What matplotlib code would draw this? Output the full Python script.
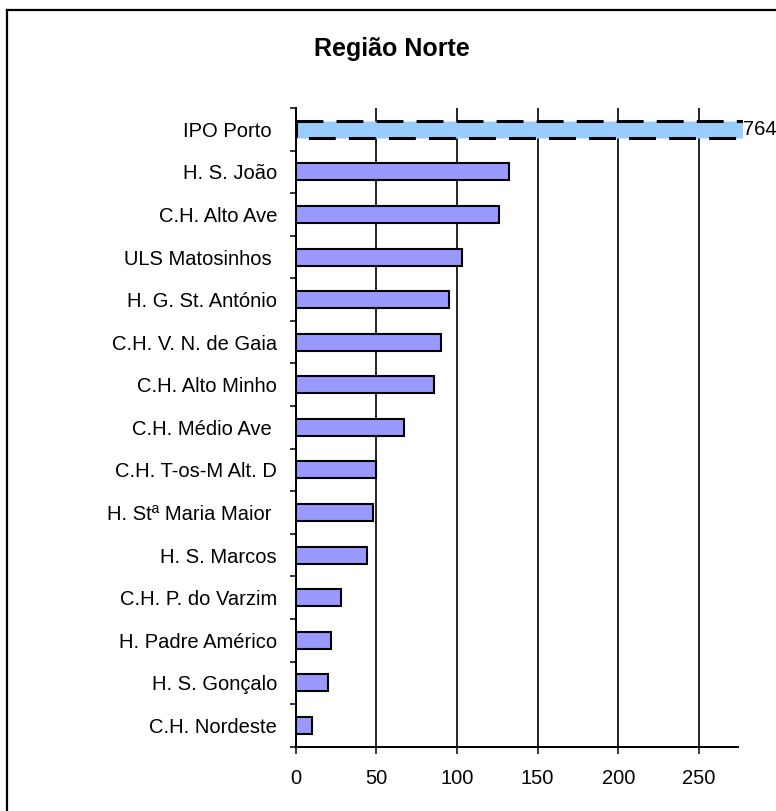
import matplotlib.pyplot as plt
from matplotlib.lines import Line2D
from matplotlib.patches import Rectangle

# Chart data
hospitals = ['IPO Porto ', 'H. S. João', 'C.H. Alto Ave', 'ULS Matosinhos ',
             'H. G. St. António', 'C.H. V. N. de Gaia', 'C.H. Alto Minho',
             'C.H. Médio Ave ', 'C.H. T-os-M Alt. D', 'H. Stª Maria Maior ',
             'H. S. Marcos', 'C.H. P. do Varzim', 'H. Padre Américo',
             'H. S. Gonçalo', 'C.H. Nordeste']
values = [764, 132, 126, 103, 95, 90, 86, 67, 50, 48, 44, 28, 22, 20, 10]
x_ticks = [0, 50, 100, 150, 200, 250]
x_max = 274
title = 'Região Norte'

plt.rcParams['font.family'] = ['Liberation Sans', 'DejaVu Sans']

fig = plt.figure(figsize=(7.76, 8.11), dpi=100)
ax = fig.add_axes([0.381, 0.0793, 0.5697, 0.7875])

positions = list(range(len(hospitals)))
colors = ['#99CCFF'] + ['#9999FF'] * (len(hospitals) - 1)

bars = ax.barh(positions, values, height=0.4, color=colors,
               edgecolor='black', linewidth=1.5, zorder=3)

# outlier bar: dashed outline, cut a little past the axis end
big = bars[0]
big.set_linestyle((0, (8.8, 4.3)))
big.set_linewidth(2.2)
clip = Rectangle((0, -1), x_max + 3, len(hospitals) + 2, transform=ax.transData)
big.set_clip_path(clip)
ax.text(x_max + 3, 0, str(values[0]), ha='left', va='center', fontsize=14.5,
        clip_on=False)

ax.set_xlim(0, x_max)
ax.set_ylim(len(hospitals) - 0.5, -0.5)

ax.set_yticks(positions)
ax.set_yticklabels(hospitals, fontsize=14.5)
ax.set_yticks([p - 0.5 for p in positions] + [len(hospitals) - 0.5], minor=True)
ax.tick_params(axis='y', which='major', length=0, pad=13.5)
ax.tick_params(axis='y', which='minor', length=4.5, width=1.1, direction='out')

ax.set_xticks(x_ticks)
ax.set_xticklabels([str(t) for t in x_ticks], fontsize=14.5)
ax.tick_params(axis='x', length=5, width=1.1, direction='out', pad=11)

ax.grid(axis='x', color='black', linewidth=1.2, zorder=1)
ax.set_axisbelow(True)

for side in ['top', 'right']:
    ax.spines[side].set_visible(False)
for side in ['left', 'bottom']:
    ax.spines[side].set_linewidth(1.4)
    ax.spines[side].set_zorder(4)

fig.text(392 / 776, 1 - 49 / 811, title, ha='center', va='center',
         fontsize=18, fontweight='bold')

# chart-area frame (only left and top edges fall inside the picture)
fig.add_artist(Line2D([6.5 / 776, 6.5 / 776], [0, 1 - 10 / 811], color='black',
                      linewidth=1.6, transform=fig.transFigure))
fig.add_artist(Line2D([6.5 / 776, 1], [1 - 10 / 811, 1 - 10 / 811], color='black',
                      linewidth=1.6, transform=fig.transFigure))

fig.savefig('out.png', dpi=100)
